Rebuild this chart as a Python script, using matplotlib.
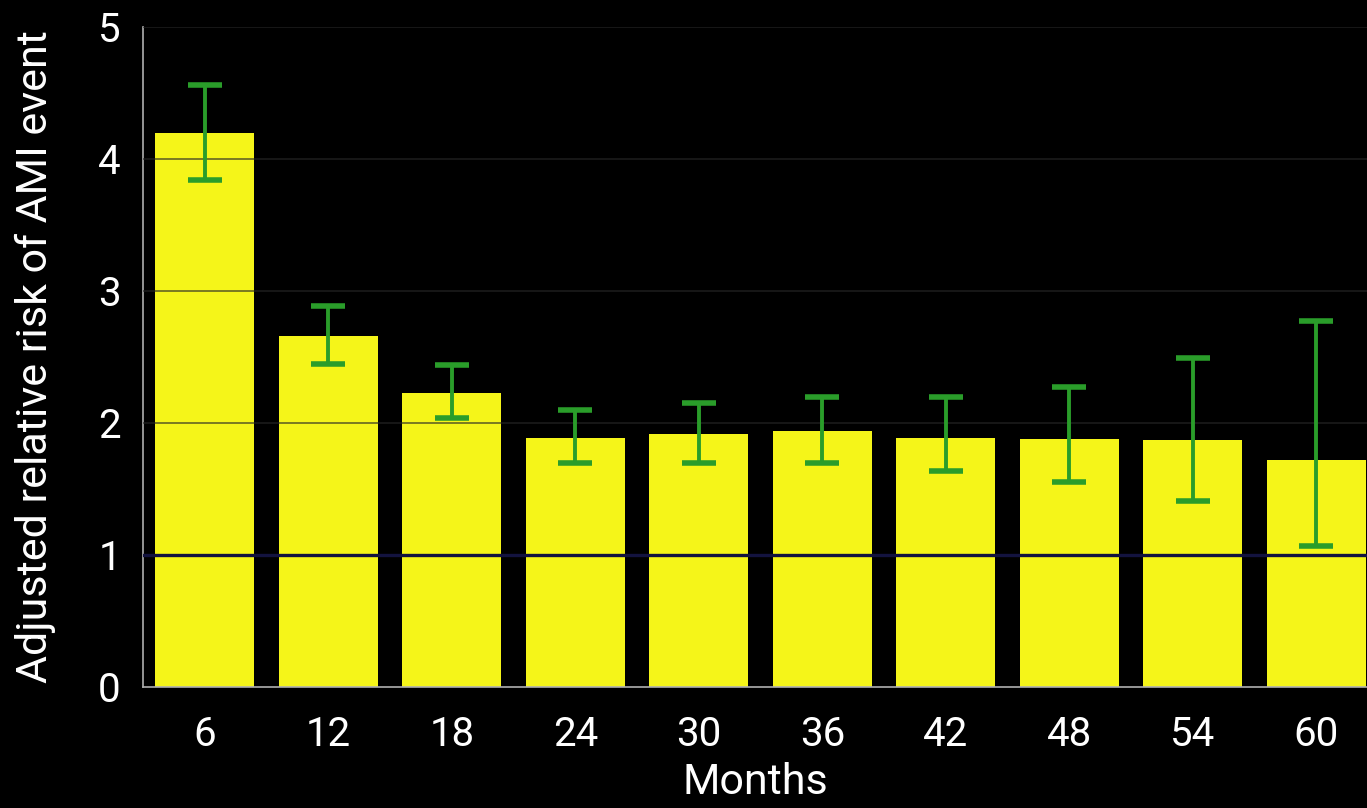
import matplotlib
matplotlib.use("Agg")
import matplotlib.pyplot as plt
import numpy as np

months = ["6", "12", "18", "24", "30", "36", "42", "48", "54", "60"]
risk = [4.20, 2.66, 2.23, 1.89, 1.92, 1.94, 1.89, 1.88, 1.87, 1.72]
ci_low = [3.84, 2.45, 2.04, 1.70, 1.70, 1.70, 1.64, 1.55, 1.41, 1.07]
ci_high = [4.56, 2.89, 2.44, 2.10, 2.15, 2.20, 2.20, 2.27, 2.49, 2.77]
yticks = [0, 1, 2, 3, 4, 5]

plt.rcParams['font.family'] = ['Roboto', 'DejaVu Sans']

fig = plt.figure(figsize=(13.67, 8.08), dpi=100, facecolor='black')
ax = fig.add_axes([143/1367, 1 - 687/808, (1367-143)/1367, (687-27)/808])
ax.set_facecolor('black')

x = np.arange(len(months))
r = np.array(risk)
yerr = np.vstack([r - np.array(ci_low), np.array(ci_high) - r])

ax.bar(x, r, width=0.8, color='#f5f519', zorder=2)
for yv in [2, 3, 4, 5]:
    ax.axhline(yv, color='#262626', alpha=0.6, lw=1.4, zorder=3)
ax.axhline(1, color='#13133f', lw=2.4, zorder=3)
ax.errorbar(x, r, yerr=yerr, fmt='none', ecolor='#2a9d2a', elinewidth=2.8,
            capsize=12, capthick=4, zorder=4)

ax.set_xlim(-0.5, 9.41)
ax.set_ylim(0, 5)
ax.set_yticks(yticks)
ax.set_yticklabels([str(v) for v in yticks])
ax.set_xticks(x)
ax.set_xticklabels(months)
ax.tick_params(axis='both', colors='white', labelsize=29, length=0)
ax.tick_params(axis='x', pad=20)
ax.tick_params(axis='y', pad=16)

for s in ['top', 'right']:
    ax.spines[s].set_visible(False)
for s in ['left', 'bottom']:
    ax.spines[s].set_color('#b0b0b0')
    ax.spines[s].set_linewidth(1.2)

ax.set_ylabel('Adjusted relative risk of AMI event', color='white', fontsize=31, labelpad=30)
ax.set_xlabel('Months', color='white', fontsize=31, labelpad=6)

fig.savefig('out.png', dpi=100, facecolor='black')
